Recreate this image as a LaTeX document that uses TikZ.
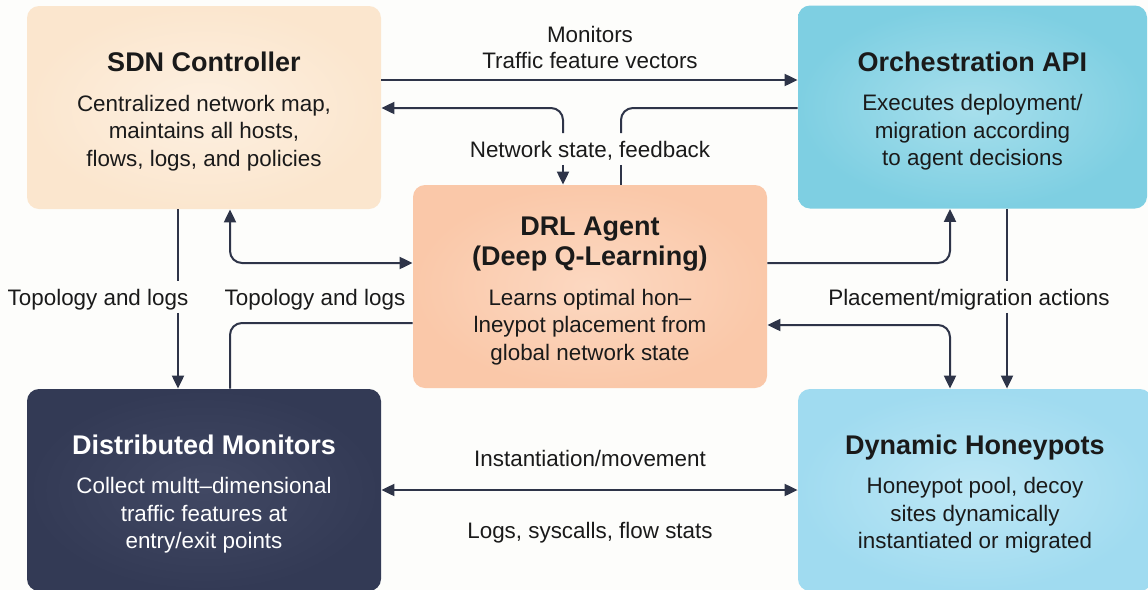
\documentclass[tikz,border=0pt]{standalone}
\usepackage{fontspec}
\setmainfont{Liberation Sans}
\usepackage{tikz}
\usetikzlibrary{arrows.meta}
\usetikzlibrary{positioning,calc}

\definecolor{bgc}{HTML}{FDFDFB}
\definecolor{linec}{HTML}{2E3448}
\definecolor{txtc}{HTML}{1A1A1A}
\definecolor{sdnout}{HTML}{FBE6CE}
\definecolor{sdnin}{HTML}{FDF0E1}
\definecolor{drlout}{HTML}{FAC8A9}
\definecolor{drlin}{HTML}{FCD8C1}
\definecolor{orchout}{HTML}{7ECFE2}
\definecolor{orchin}{HTML}{A8DFEC}
\definecolor{honout}{HTML}{A0DBF0}
\definecolor{honin}{HTML}{BDE7F5}
\definecolor{monout}{HTML}{333A55}
\definecolor{monin}{HTML}{414863}

\newcommand{\boxtitle}{\fontsize{13.5}{15.5}\selectfont\bfseries}
\newcommand{\topgap}{\rule{0pt}{13.6pt}}

\begin{document}
\begin{tikzpicture}[x=0.5pt, y=-0.5pt,
    every node/.style={font=\fontsize{11.2}{13.75}\selectfont, text=txtc},
    box/.style={rectangle, rounded corners=6pt, inner sep=0pt, align=center,
        minimum width=177pt, minimum height=101.5pt},
    lbl/.style={inner sep=2.5pt, text height=9.5pt, text depth=1pt},
    conn/.style={draw=linec, line width=1pt, rounded corners=6pt},
    tip/.style={-{Triangle[length=6.5pt,width=6pt]}},
    tips/.style={{Triangle[length=6.5pt,width=6pt]}-{Triangle[length=6.5pt,width=6pt]}}]
    \useasboundingbox (0,0) rectangle (1148,590);
    \clip (0,0) rectangle (1148,590);
    \fill[bgc] (0,0) rectangle (1148,590);

    % the five blocks
    \node[box, inner color=sdnin, outer color=sdnout] (sdn) at (204,107.5)
        {\topgap{\boxtitle SDN Controller}\\[6pt]Centralized network map,\\maintains all hosts,\\flows, logs, and policies};
    \node[box, inner color=orchin, outer color=orchout, minimum width=174.5pt] (orch) at (972.5,107)
        {\topgap{\boxtitle Orchestration API}\\[6pt]Executes deployment/\\migration according\\to agent decisions};
    \node[box, inner color=drlin, outer color=drlout] (drl) at (590,286.5)
        {\topgap{\boxtitle DRL Agent}\\[1.5pt]{\boxtitle (Deep Q-Learning)}\\[6pt]Learns optimal hon–\\lneypot placement from\\global network state};
    \node[box, inner color=monin, outer color=monout, minimum height=101pt, text=white] (mon) at (204,490)
        {\topgap{\boxtitle Distributed Monitors}\\[6pt]Collect multt–dimensional\\traffic features at\\entry/exit points};
    \node[box, inner color=honin, outer color=honout, minimum height=101pt] (hon) at (975,490)
        {\topgap{\boxtitle Dynamic Honeypots}\\[6pt]Honeypot pool, decoy\\sites dynamically\\instantiated or migrated};

    % labels
    \node[lbl] (lmon) at (590,34) {Monitors};
    \node[lbl] (ltfv) at (590,60) {Traffic feature vectors};
    \node[lbl] (lnet) at (590,149) {Network state, feedback};
    \node[lbl] (ltopoa) at (98,297) {Topology and logs};
    \node[lbl] (ltopob) at (315,297) {Topology and logs};
    \node[lbl] (lplace) at (969,297) {Placement/migration actions};
    \node[lbl] (linst) at (590,458) {Instantiation/movement};
    \node[lbl] (llogs) at (590,530) {Logs, syscalls, flow stats};

    % connectors
    \draw[conn, tip] (sdn.east |- 0,80) -- (orch.west |- 0,80);
    \draw[conn, tip] (lnet.north -| 563,0) |- (sdn.east |- 0,108);
    \draw[conn, tip] (lnet.south -| 563,0) -- (drl.north -| 563,0);
    \draw[conn] (orch.west |- 0,108) -| (lnet.north -| 621,0);
    \draw[conn] (lnet.south -| 621,0) -- (drl.north -| 621,0);

    \draw[conn] (sdn.south -| 178,0) -- (ltopoa.north -| 178,0);
    \draw[conn, tip] (ltopoa.south -| 178,0) -- (mon.north -| 178,0);
    \draw[conn, tips] (sdn.south -| 230,0) |- (drl.west |- 0,263);
    \draw[conn] (mon.north -| 230,0) |- (drl.west |- 0,323);

    \draw[conn, tip] (drl.east |- 0,263) -| (orch.south -| 950,0);
    \draw[conn, tips] (drl.east |- 0,325) -| (hon.north -| 950,0);
    \draw[conn] (orch.south -| 1007,0) -- (lplace.north -| 1007,0);
    \draw[conn, tip] (lplace.south -| 1007,0) -- (hon.north -| 1007,0);

    \draw[conn, tips] (mon.east |- 0,490) -- (hon.west |- 0,490);
\end{tikzpicture}
\end{document}
